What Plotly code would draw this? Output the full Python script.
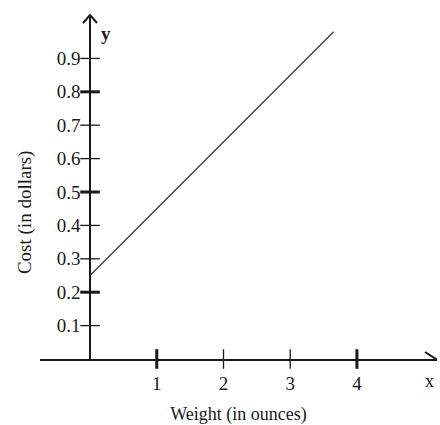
import plotly.graph_objects as go

# ---- data ----
line_x = [0, 3.65]
line_y = [0.25, 0.98]

x_ticks = [1, 2, 3, 4]
x_tick_text = ["1", "2", "3", "4"]
x_bold_ticks = [1, 4]
x_thin_ticks = [2, 3]

y_ticks = [0.1, 0.2, 0.3, 0.4, 0.5, 0.6, 0.7, 0.8, 0.9]
y_tick_text = ["0.1", "0.2", "0.3", "0.4", "0.5", "0.6", "0.7", "0.8", "0.9"]
y_bold_ticks = [0.2, 0.5, 0.8]
y_thin_ticks = [0.1, 0.3, 0.4, 0.6, 0.7, 0.9]

x_title = "Weight (in ounces)"
y_title = "Cost (in dollars)"

X_RANGE = [-0.75, 5.2]
Y_RANGE = [0, 1.03]

FONT = "Liberation Serif, Times New Roman, serif"
INK = "#1a1a1a"

fig = go.Figure()

# cost line
fig.add_trace(go.Scatter(x=line_x, y=line_y, mode="lines",
                         line=dict(color="#3a3a3a", width=1.3),
                         hoverinfo="skip", showlegend=False))

# crossing tick marks on the y axis
fig.add_trace(go.Scatter(x=[0] * len(y_thin_ticks), y=y_thin_ticks, mode="markers",
                         marker=dict(symbol="line-ew", size=14,
                                     line=dict(color=INK, width=1.3)),
                         cliponaxis=False, hoverinfo="skip", showlegend=False))
fig.add_trace(go.Scatter(x=[0] * len(y_bold_ticks), y=y_bold_ticks, mode="markers",
                         marker=dict(symbol="line-ew", size=14,
                                     line=dict(color=INK, width=3)),
                         cliponaxis=False, hoverinfo="skip", showlegend=False))
# crossing tick marks on the x axis
fig.add_trace(go.Scatter(x=x_thin_ticks, y=[0] * len(x_thin_ticks), mode="markers",
                         marker=dict(symbol="line-ns", size=14,
                                     line=dict(color=INK, width=1.3)),
                         cliponaxis=False, hoverinfo="skip", showlegend=False))
fig.add_trace(go.Scatter(x=x_bold_ticks, y=[0] * len(x_bold_ticks), mode="markers",
                         marker=dict(symbol="line-ns", size=14,
                                     line=dict(color=INK, width=3)),
                         cliponaxis=False, hoverinfo="skip", showlegend=False))

y_pos = (0 - X_RANGE[0]) / (X_RANGE[1] - X_RANGE[0])

fig.update_layout(
    width=440, height=425,
    margin=dict(l=40, r=3, t=15, b=66),
    paper_bgcolor="white", plot_bgcolor="white",
    font=dict(family=FONT, color=INK),
    xaxis=dict(range=X_RANGE, showgrid=False, zeroline=False,
               showline=True, linecolor=INK, linewidth=1.5,
               tickvals=x_ticks, ticktext=x_tick_text, ticks="",
               ticklabelstandoff=6,
               tickfont=dict(family=FONT, size=19, color=INK),
               title=dict(text=x_title, font=dict(family=FONT, size=18, color=INK),
                          standoff=15),
               automargin=False, fixedrange=True),
    yaxis=dict(range=Y_RANGE, showgrid=False, zeroline=False,
               anchor="free", position=y_pos,
               showline=True, linecolor=INK, linewidth=1.5,
               tickvals=y_ticks, ticktext=y_tick_text, ticks="",
               ticklabelstandoff=5,
               tickfont=dict(family=FONT, size=19, color=INK),
               automargin=False, fixedrange=True),
    shapes=[
        # y-axis arrowhead (pixel-sized chevron at the top of the axis)
        dict(type="path", xref="x", yref="paper", xsizemode="pixel", ysizemode="pixel",
             xanchor=0, yanchor=1, path="M -7 -8 L 0 0 L 7 -8",
             line=dict(color=INK, width=2)),
        # x-axis arrowhead (pixel-sized chevron at the right end)
        dict(type="path", xref="paper", yref="y", xsizemode="pixel", ysizemode="pixel",
             xanchor=1, yanchor=0, path="M -12 7 L -1 0 L -12 -7",
             line=dict(color=INK, width=2)),
    ],
    annotations=[
        dict(text=y_title, textangle=-90, xref="paper", yref="y", x=0, y=0.44,
             xshift=-28, showarrow=False,
             font=dict(family=FONT, size=19, color=INK)),
        dict(text="<b>y</b>", xref="x", yref="paper", x=0, y=1, xshift=16, yshift=-6,
             showarrow=False, font=dict(family=FONT, size=19, color=INK)),
        dict(text="x", xref="paper", yref="y", x=1, y=0, xshift=-1, yshift=-22,
             showarrow=False, font=dict(family=FONT, size=18, color=INK)),
    ],
)

fig.write_html("out.html", config={"displayModeBar": False},
               post_script="document.body.style.margin='0';document.body.style.padding='0';")
